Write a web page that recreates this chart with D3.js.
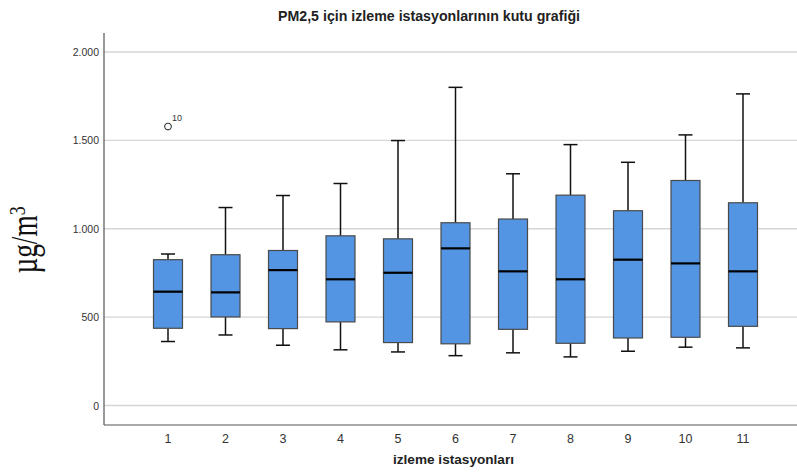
<!DOCTYPE html><meta charset="utf-8">
<style>*{margin:0}body{background:#fff}text{font-family:Arial,"Liberation Sans",sans-serif}</style>
<svg width="797" height="472"></svg>
<script src="https://d3js.org/d3.v7.min.js"></script>
<script>
// data (µg/m3)
const stations = ["1","2","3","4","5","6","7","8","9","10","11"];
const whiskerLo = [362, 399, 341, 315, 303, 282, 298, 275, 307, 330, 326];
const q1        = [437, 501, 435, 473, 356, 349, 431, 352, 382, 386, 448];
const median    = [644, 640, 766, 714, 751, 889, 759, 714, 825, 804, 759];
const q3        = [825, 853, 877, 960, 943, 1034, 1055, 1190, 1102, 1273, 1147];
const whiskerHi = [857, 1120, 1188, 1256, 1499, 1800, 1311, 1476, 1376, 1531, 1763];
const outliers  = [{station:"1", value:1578, label:"10"}];
const yTicks    = [0, 500, 1000, 1500, 2000];

const svg = d3.select("svg");
const mLeft = 104, mBottom = 425, mTop = 33, mRight = 797;

const x = d3.scalePoint().domain(stations).range([168, 743]);
const y = d3.scaleLinear().domain([0, 2000]).range([405.5, 52]);
const fmt = d3.formatLocale({decimal:",", thousands:".", grouping:[3], currency:["",""]}).format(",d");

// grid
svg.append("g").selectAll("line").data(yTicks).join("line")
   .attr("x1", mLeft).attr("x2", mRight)
   .attr("y1", d=>y(d)).attr("y2", d=>y(d))
   .attr("stroke", "#d6d6d6").attr("stroke-width", 1.3);

// y axis labels
svg.append("g").selectAll("text").data(yTicks).join("text")
   .attr("x", 99).attr("y", d=>y(d)+4)
   .attr("text-anchor", "end").attr("font-size", 10.5).attr("fill", "#333")
   .text(d=>fmt(d));

// axis lines
svg.append("line").attr("x1", mLeft).attr("x2", mLeft).attr("y1", mTop).attr("y2", mBottom)
   .attr("stroke", "#555").attr("stroke-width", 1.2);
svg.append("line").attr("x1", mLeft).attr("x2", mRight).attr("y1", mBottom).attr("y2", mBottom)
   .attr("stroke", "#555").attr("stroke-width", 1.2);

// x labels
svg.append("g").selectAll("text").data(stations).join("text")
   .attr("x", d=>x(d)).attr("y", 443)
   .attr("text-anchor", "middle").attr("font-size", 12.5).attr("fill", "#333")
   .text(d=>d);

const bw = 29, cw = 14;
const boxes = svg.append("g").selectAll("g").data(stations).join("g")
   .attr("transform", d=>`translate(${x(d)},0)`);

boxes.append("line")
   .attr("y1", (d,i)=>y(whiskerHi[i])).attr("y2", (d,i)=>y(q3[i]))
   .attr("stroke", "#111").attr("stroke-width", 1.5);
boxes.append("line")
   .attr("y1", (d,i)=>y(q1[i])).attr("y2", (d,i)=>y(whiskerLo[i]))
   .attr("stroke", "#111").attr("stroke-width", 1.5);
boxes.append("line")
   .attr("x1", -cw/2).attr("x2", cw/2)
   .attr("y1", (d,i)=>y(whiskerHi[i])).attr("y2", (d,i)=>y(whiskerHi[i]))
   .attr("stroke", "#111").attr("stroke-width", 1.5);
boxes.append("line")
   .attr("x1", -cw/2).attr("x2", cw/2)
   .attr("y1", (d,i)=>y(whiskerLo[i])).attr("y2", (d,i)=>y(whiskerLo[i]))
   .attr("stroke", "#111").attr("stroke-width", 1.5);
boxes.append("rect")
   .attr("x", -bw/2).attr("width", bw)
   .attr("y", (d,i)=>y(q3[i])).attr("height", (d,i)=>y(q1[i])-y(q3[i]))
   .attr("fill", "#5495e3").attr("stroke", "#4a4a4a").attr("stroke-width", 1.2);
boxes.append("line")
   .attr("x1", -bw/2).attr("x2", bw/2)
   .attr("y1", (d,i)=>y(median[i])).attr("y2", (d,i)=>y(median[i]))
   .attr("stroke", "#000").attr("stroke-width", 2.2);

// outliers
const out = svg.append("g").selectAll("g").data(outliers).join("g")
   .attr("transform", d=>`translate(${x(d.station)},${y(d.value)})`);
out.append("circle").attr("r", 3.3).attr("fill", "#fff").attr("stroke", "#333").attr("stroke-width", 1.1);
out.append("text").attr("x", 4).attr("y", -6).attr("font-size", 9).attr("fill", "#333").text(d=>d.label);

// titles
svg.append("text").attr("x", 429).attr("y", 21).attr("text-anchor", "middle")
   .attr("font-size", 14).attr("font-weight", "bold").attr("fill", "#222")
   .attr("textLength", 302).attr("lengthAdjust", "spacingAndGlyphs")
   .text("PM2,5 için izleme istasyonlarının kutu grafiği");
svg.append("text").attr("x", 453.5).attr("y", 464).attr("text-anchor", "middle")
   .attr("font-size", 13).attr("font-weight", "bold").attr("fill", "#222")
   .attr("textLength", 121).attr("lengthAdjust", "spacingAndGlyphs")
   .text("izleme istasyonları");

// y title: tall, condensed serif
const yl = svg.append("text").attr("transform", "translate(37,240) rotate(-90) scale(0.74,1)")
   .attr("text-anchor", "middle").attr("font-size", 37).attr("fill", "#111")
   .style("font-family", "'Liberation Serif','DejaVu Serif',serif");
yl.append("tspan").text("µg/m");
yl.append("tspan").attr("dy", -12).attr("font-size", 24).text("3");
</script>
